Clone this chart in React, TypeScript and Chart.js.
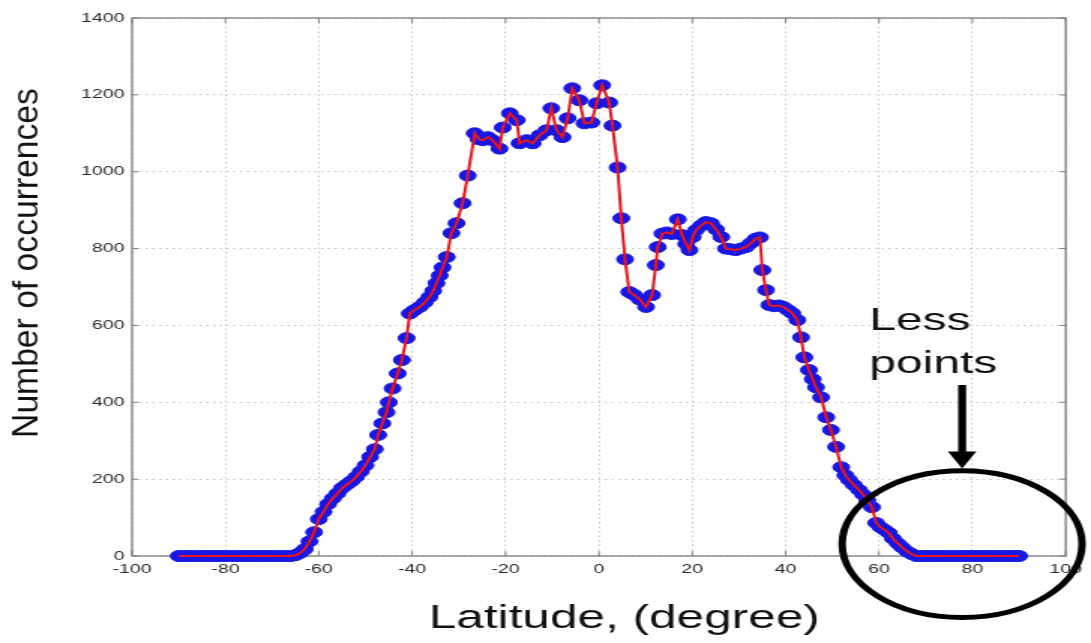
import React, { useEffect, useRef } from "react";
import { Chart, registerables } from "chart.js";

Chart.register(...registerables);

// ---------------- data ----------------
const latitudes: number[] = [
  -90, -89, -88, -87, -86, -85, -84, -83, -82, -81, -80, -79, -78, -77, -76, -75, -74, -73, -72, -71, -70, -69, -68, -67, -66,
  -65, -64, -63, -62, -61, -60, -59, -58, -57, -56, -55, -54, -53, -52, -51, -50, -49, -48,
  -47.3, -46.4, -45.5, -45.0, -44.2, -43.1, -42.2, -41.2, -40.5, -39.5, -38.4, -37.3, -36.3, -35.5, -34.8, -34.1, -33.5, -32.6,
  -31.6, -30.5, -29.2, -28.1, -26.6, -25.8, -24.9, -23.8, -22.8, -21.3, -20.6, -19.1, -17.6, -17.0, -15.5, -14.2, -12.7, -11.2,
  -10.2, -9.1, -7.8, -6.7, -5.7, -4.2, -3.1, -1.6, -0.5, 0.7, 2.2, 2.9, 4.0, 4.8, 5.6, 6.5, 7.5, 8.7, 10.1, 11.4,
  12.2, 12.6, 13.6, 14.6, 15.6, 16.9, 17.8, 18.7, 19.4, 20.1, 20.8, 21.9, 22.9, 24.0, 25.1, 26.2, 27.2, 28.3, 29.3, 30.4,
  31.5, 32.6, 33.6, 34.5, 35.0, 35.8, 36.5, 37.5, 38.6, 39.5, 40.5, 41.4, 42.5, 43.3, 44.0, 45.0, 45.8, 46.5, 47.6, 48.7,
  49.7, 50.8, 51.9, 52.8, 53.6, 54.6, 55.7, 56.6, 57.5, 58.5, 59.4, 60.3, 61.2, 62.1, 63.0, 64.0, 64.9, 66.0, 67.0,
  68, 69, 70, 71, 72, 73, 74, 75, 76, 77, 78, 79, 80, 81, 82, 83, 84, 85, 86, 87, 88, 89, 90,
];

const occurrences: number[] = [
  0, 0, 0, 0, 0, 0, 0, 0, 0, 0, 0, 0, 0, 0, 0, 0, 0, 0, 0, 0, 0, 0, 0, 0, 0,
  2, 8, 18, 38, 62, 96, 115, 135, 150, 163, 177, 186, 195, 206, 220, 236, 258, 278,
  315, 345, 374, 400, 436, 475, 510, 567, 631, 640, 648, 660, 674, 690, 710, 730, 751, 778,
  840, 866, 918, 990, 1100, 1085, 1082, 1090, 1082, 1060, 1115, 1152, 1134, 1074, 1082, 1074, 1095, 1108,
  1165, 1108, 1090, 1139, 1217, 1186, 1126, 1128, 1178, 1225, 1180, 1120, 1011, 879, 772, 687, 680, 668, 648, 679,
  757, 804, 839, 842, 838, 876, 835, 812, 796, 830, 848, 860, 869, 866, 850, 830, 800, 798, 796, 800,
  804, 815, 826, 829, 744, 692, 653, 650, 652, 648, 640, 632, 614, 569, 517, 484, 460, 439, 413, 361,
  328, 284, 231, 210, 198, 185, 172, 160, 145, 127, 86, 75, 68, 60, 45, 33, 23, 12, 5,
  0, 0, 0, 0, 0, 0, 0, 0, 0, 0, 0, 0, 0, 0, 0, 0, 0, 0, 0, 0, 0, 0, 0,
];

const xTickValues: number[] = [-100, -80, -60, -40, -20, 0, 20, 40, 60, 80, 100];
const yTickValues: number[] = [0, 200, 400, 600, 800, 1000, 1200, 1400];

const xTitle = "Latitude, (degree)";
const yTitle = "Number of occurrences";
const noteLines: string[] = ["Less", "points"];

// annotation anchors in data units: [latitude, count]
const noteLat = 57.9;
const noteCounts: number[] = [588, 476];
const arrowLat = 77.8;
const arrowCounts: number[] = [445, 228];
const ringCenter: number[] = [77.8, 31];
const ringRadii: number[] = [25.7, 191];

// ---------------- styling ----------------
const CANVAS_W = 727;
const CANVAS_H = 643;
const SCREEN_W = 1091;
const FONT = '"Liberation Sans", Arial, Helvetica, sans-serif';
const RED = "rgb(232, 22, 30)";
const BLUE = "rgb(24, 24, 228)";

const decorPlugin = {
  id: "matlabDecor",
  beforeDatasetsDraw(chart: any) {
    const { ctx, chartArea: a, scales } = chart;
    const x = scales.x;
    const y = scales.y;
    ctx.save();
    ctx.strokeStyle = "#7d7d7d";
    ctx.lineWidth = 1.3;
    ctx.strokeRect(a.left, a.top, a.right - a.left, a.bottom - a.top);
    ctx.lineWidth = 1;
    ctx.beginPath();
    for (const v of xTickValues) {
      const px = x.getPixelForValue(v);
      ctx.moveTo(px, a.bottom);
      ctx.lineTo(px, a.bottom - 5);
      ctx.moveTo(px, a.top);
      ctx.lineTo(px, a.top + 5);
    }
    for (const v of yTickValues) {
      const py = y.getPixelForValue(v);
      ctx.moveTo(a.left, py);
      ctx.lineTo(a.left + 4, py);
      ctx.moveTo(a.right, py);
      ctx.lineTo(a.right - 4, py);
    }
    ctx.stroke();
    ctx.restore();
  },
  afterDraw(chart: any) {
    const { ctx, scales } = chart;
    const x = scales.x;
    const y = scales.y;
    ctx.save();
    ctx.fillStyle = "#111";

    // x-axis title
    ctx.font = `33px ${FONT}`;
    ctx.textAlign = "center";
    ctx.textBaseline = "alphabetic";
    ctx.fillText(xTitle, 416, 628);

    // y-axis title (rotated)
    ctx.save();
    ctx.translate(25.3, 263);
    ctx.rotate(-Math.PI / 2);
    ctx.scale(0.99, 0.68);
    ctx.font = `34px ${FONT}`;
    ctx.textAlign = "center";
    ctx.textBaseline = "alphabetic";
    ctx.fillText(yTitle, 0, 0);
    ctx.restore();

    // note text
    ctx.font = `32px ${FONT}`;
    ctx.textAlign = "left";
    const nx = x.getPixelForValue(noteLat);
    noteLines.forEach((t, i) => {
      ctx.fillText(t, nx, y.getPixelForValue(noteCounts[i]));
    });

    // arrow
    const ax = x.getPixelForValue(arrowLat);
    const ay0 = y.getPixelForValue(arrowCounts[0]);
    const ay1 = y.getPixelForValue(arrowCounts[1]);
    const headH = 17;
    const headW = 9.5;
    ctx.strokeStyle = "#000";
    ctx.fillStyle = "#000";
    ctx.lineWidth = 5.3;
    ctx.beginPath();
    ctx.moveTo(ax, ay0);
    ctx.lineTo(ax, ay1 - headH + 2);
    ctx.stroke();
    ctx.beginPath();
    ctx.moveTo(ax - headW, ay1 - headH);
    ctx.lineTo(ax + headW, ay1 - headH);
    ctx.lineTo(ax, ay1);
    ctx.closePath();
    ctx.fill();

    // ellipse
    const cx = x.getPixelForValue(ringCenter[0]);
    const cy = y.getPixelForValue(ringCenter[1]);
    const rx = x.getPixelForValue(ringCenter[0] + ringRadii[0]) - cx;
    const ry = cy - y.getPixelForValue(ringCenter[1] + ringRadii[1]);
    ctx.lineWidth = 5;
    ctx.beginPath();
    ctx.ellipse(cx, cy, rx, ry, 0, 0, Math.PI * 2);
    ctx.stroke();
    ctx.restore();
  },
};

export default function App() {
  const canvasRef = useRef<HTMLCanvasElement | null>(null);

  useEffect(() => {
    document.body.style.margin = "0";
    const canvas = canvasRef.current;
    if (!canvas) return;
    const points = latitudes.map((lat, i) => ({ x: lat, y: occurrences[i] }));

    const tickFont = { family: FONT, size: 13 };
    const plainLabel = (v: any) => String(v);
    const chart = new Chart(canvas, {
      type: "scatter",
      data: {
        datasets: [
          {
            label: "line",
            data: points,
            showLine: true,
            borderColor: RED,
            borderWidth: 2,
            pointRadius: 0,
            pointHoverRadius: 0,
            order: 0,
            clip: false,
          } as any,
          {
            label: "markers",
            data: points,
            showLine: false,
            pointRadius: 5.5,
            pointHoverRadius: 5.5,
            pointBackgroundColor: BLUE,
            pointBorderColor: BLUE,
            pointBorderWidth: 1,
            order: 1,
            clip: false,
          } as any,
        ],
      },
      options: {
        responsive: false,
        animation: false,
        devicePixelRatio: 1,
        events: [],
        layout: { padding: { left: 0, right: 16, top: 18, bottom: 0 } },
        plugins: {
          legend: { display: false },
          tooltip: { enabled: false },
          title: { display: false },
        },
        scales: {
          x: {
            type: "linear",
            min: -100,
            max: 100,
            afterBuildTicks: (s: any) => {
              s.ticks = xTickValues.map((v) => ({ value: v }));
            },
            afterFit: (s: any) => {
              s.height = 87;
            },
            grid: { color: "#c4c4c4", lineWidth: 1, drawTicks: false },
            border: { display: false, dash: [1.5, 3] },
            ticks: {
              font: tickFont,
              color: "#2a2a2a",
              padding: 6,
              maxRotation: 0,
              autoSkip: false,
              callback: plainLabel,
            },
          },
          y: {
            type: "linear",
            min: 0,
            max: 1400,
            afterBuildTicks: (s: any) => {
              s.ticks = yTickValues.map((v) => ({ value: v }));
            },
            afterFit: (s: any) => {
              s.width = 88;
            },
            grid: { color: "#c4c4c4", lineWidth: 1, drawTicks: false },
            border: { display: false, dash: [1.5, 3] },
            ticks: {
              font: tickFont,
              color: "#2a2a2a",
              padding: 5,
              autoSkip: false,
              callback: plainLabel,
            },
          },
        },
      } as any,
      plugins: [decorPlugin],
    });

    return () => {
      chart.destroy();
    };
  }, []);

  return (
    <div style={{ width: SCREEN_W, height: CANVAS_H, background: "#fff" }}>
      <canvas
        ref={canvasRef}
        width={CANVAS_W}
        height={CANVAS_H}
        style={{ width: `${SCREEN_W}px`, height: `${CANVAS_H}px`, display: "block" }}
      />
    </div>
  );
}
